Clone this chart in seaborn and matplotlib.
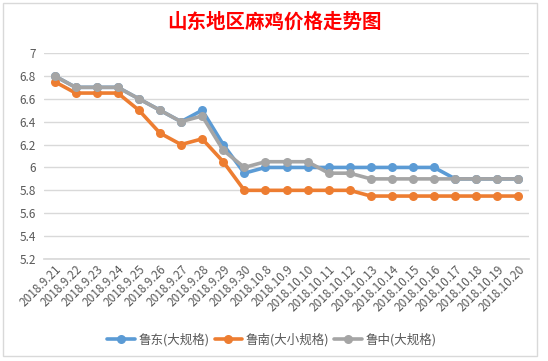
import matplotlib
matplotlib.use("Agg")
import matplotlib.pyplot as plt
import seaborn as sns
import pandas as pd
from matplotlib.patches import Rectangle

dates = ["2018.9.21", "2018.9.22", "2018.9.23", "2018.9.24", "2018.9.25", "2018.9.26",
         "2018.9.27", "2018.9.28", "2018.9.29", "2018.9.30", "2018.10.8", "2018.10.9",
         "2018.10.10", "2018.10.11", "2018.10.12", "2018.10.13", "2018.10.14", "2018.10.15",
         "2018.10.16", "2018.10.17", "2018.10.18", "2018.10.19", "2018.10.20"]
ludong = [6.8, 6.7, 6.7, 6.7, 6.6, 6.5, 6.4, 6.5, 6.2, 5.95, 6.0, 6.0, 6.0, 6.0, 6.0,
          6.0, 6.0, 6.0, 6.0, 5.9, 5.9, 5.9, 5.9]
lunan = [6.75, 6.65, 6.65, 6.65, 6.5, 6.3, 6.2, 6.25, 6.05, 5.8, 5.8, 5.8, 5.8, 5.8, 5.8,
         5.75, 5.75, 5.75, 5.75, 5.75, 5.75, 5.75, 5.75]
luzhong = [6.8, 6.7, 6.7, 6.7, 6.6, 6.5, 6.4, 6.45, 6.15, 6.0, 6.05, 6.05, 6.05, 5.95, 5.95,
           5.9, 5.9, 5.9, 5.9, 5.9, 5.9, 5.9, 5.9]
series_names = ["鲁东(大规格)", "鲁南(大小规格)", "鲁中(大规格)"]
colors = ["#5B9BD5", "#ED7D31", "#A5A5A5"]
title = "山东地区麻鸡价格走势图"

sns.set_theme(style="white")
plt.rcParams['font.family'] = ['Noto Sans CJK SC', 'DejaVu Sans']

rows = []
for name, vals in zip(series_names, [ludong, lunan, luzhong]):
    for i, v in enumerate(vals):
        rows.append({"pos": i, "value": v, "series": name})
df = pd.DataFrame(rows)

fig = plt.figure(figsize=(5.48, 3.61), dpi=100)
fig.patch.set_facecolor("white")
ax = fig.add_axes([44/548, (361-259)/361, 485/548, 206/361])

sns.lineplot(data=df, x="pos", y="value", hue="series", hue_order=series_names,
             palette=colors, marker="o", markersize=6.5, markeredgewidth=0,
             linewidth=2.6, sort=False, ax=ax, legend=True)

ax.set_xlim(-0.5, len(dates) - 0.5)
ax.set_ylim(5.2, 7.0)
ax.set_yticks([5.2, 5.4, 5.6, 5.8, 6.0, 6.2, 6.4, 6.6, 6.8, 7.0])
ax.set_yticklabels(["5.2", "5.4", "5.6", "5.8", "6", "6.2", "6.4", "6.6", "6.8", "7"])
ax.yaxis.grid(True, color="#D9D9D9", linewidth=1)
ax.xaxis.grid(False)
for s in ax.spines.values():
    s.set_visible(False)
ax.spines["bottom"].set_visible(True)
ax.spines["bottom"].set_color("#D9D9D9")
ax.set_xticks(range(len(dates)))
ax.set_xticklabels(dates, rotation=45, ha="right", rotation_mode="anchor",
                   fontsize=8.5, color="#595959")
ax.tick_params(axis="y", labelsize=8.5, colors="#595959", length=0, pad=6)
ax.tick_params(axis="x", length=0, pad=3)
ax.set_xlabel("")
ax.set_ylabel("")
ax.set_axisbelow(True)

leg = ax.legend(loc="center", bbox_to_anchor=(272/548, 1 - 340/361),
                bbox_transform=fig.transFigure, ncol=3, frameon=False,
                fontsize=9, handlelength=2.2, columnspacing=0.4, handletextpad=0.3)
for t in leg.get_texts():
    t.set_color("#595959")

fig.text(274/548, 1 - 22/361, title, ha="center", va="center",
         fontsize=14, color="#FF0000", fontweight="bold")

fig.patches.append(Rectangle((3/548, 5/361), 534/548, 353/361, transform=fig.transFigure,
                             fill=False, edgecolor="#D9D9D9", linewidth=1))

fig.savefig("out.png", dpi=100, facecolor="white")
